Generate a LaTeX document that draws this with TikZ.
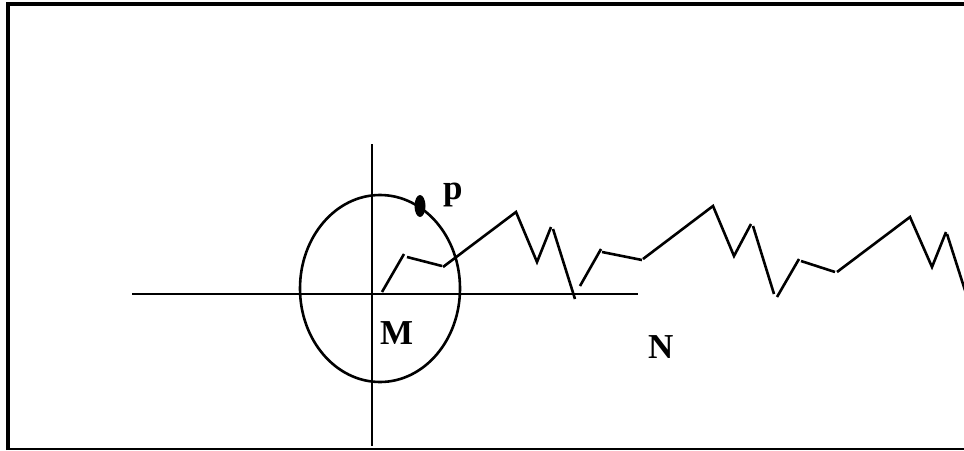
\documentclass[tikz,border=0pt]{standalone}
\usepackage{fontspec}
\setmainfont{Liberation Serif}
\begin{document}
\begin{tikzpicture}[x=1pt,y=-1pt,
  lbl/.style={font=\fontsize{35}{40}\selectfont\bfseries, inner sep=0pt, anchor=base west},
  ln/.style={line width=2.6pt, line join=miter, line cap=butt}]
\useasboundingbox (0,0) rectangle (964,450);
\clip (0,0) rectangle (964,450);
% frame
\draw[line width=4.5pt] (8,450) -- (8,4) -- (964,4);
\draw[line width=2pt] (8,449) -- (964,449);
% axes
\draw[ln] (132,294) -- (638,294);
\draw[ln] (372,144) -- (372,446);
% circle
\draw[ln] (380,288.5) ellipse [x radius=80, y radius=93.5];
\fill (420,206) ellipse [x radius=5.5, y radius=11];
% zigzag, unit 1
\draw[ln] (382,292) -- (404,254);
\draw[ln] (407,257) -- (442,266);
\draw[ln] (443,267) -- (516,212) -- (537,262) -- (551,227);
\draw[ln] (553,229) -- (575,299);
% unit 2
\draw[ln] (580,286) -- (601,249);
\draw[ln] (602,252) -- (642,260);
\draw[ln] (643,259) -- (713,206) -- (734,256) -- (751,224);
\draw[ln] (753,226) -- (774,294);
% unit 3
\draw[ln] (777,297) -- (799,259);
\draw[ln] (801,261) -- (835,272);
\draw[ln] (837,272) -- (910,217) -- (932,267) -- (946,232);
\draw[ln] (947,234) -- (970,306);
% labels
\node[lbl] (p) at (443,199) {p};
\node[lbl] (M) at (380,344) {M};
\node[lbl] (N) at (648,358) {N};
\end{tikzpicture}
\end{document}
